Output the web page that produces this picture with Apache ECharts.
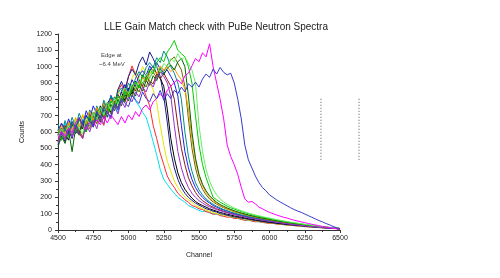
<!DOCTYPE html>
<html>
<head>
<meta charset="utf-8">
<script src="https://cdn.jsdelivr.net/npm/echarts@6/dist/echarts.min.js"></script>
<style>
  html, body { margin: 0; padding: 0; background: #fff; }
  #chart { width: 500px; height: 278px; }
</style>
</head>
<body>
<div id="chart"></div>
<script type="text/javascript">
// channel numbers (x), one point every 25 channels
var channels = [4500,4525,4550,4575,4600,4625,4650,4675,4700,4725,
  4750,4775,4800,4825,4850,4875,4900,4925,4950,4975,
  5000,5025,5050,5075,5100,5125,5150,5175,5200,5225,
  5250,5275,5300,5325,5350,5375,5400,5425,5450,5475,
  5500,5525,5550,5575,5600,5625,5650,5675,5700,5725,
  5750,5775,5800,5825,5850,5875,5900,5925,5950,5975,
  6000,6025,6050,6075,6100,6125,6150,6175,6200,6225,
  6250,6275,6300,6325,6350,6375,6400,6425,6450,6475,6500];

// counts per spectrum
var cyanRun = [620,560,655,590,645,600,610,680,625,700,
  650,720,660,735,700,690,775,720,815,860,
  820,880,790,760,720,690,620,540,460,370,
  310,280,250,225,200,185,170,150,140,130,
  120,112,118,104,100,95,92,85,88,78,
  74,70,66,61,59,55,53,50,47,44,
  42,40,38,35,33,31,30,27,25,24,
  22,20,18,17,15,14,12,11,10,9,8];
var redRun = [540,615,575,650,590,665,600,560,650,705,
  640,730,680,640,750,805,760,850,890,840,
  940,1005,950,905,880,820,760,640,560,470,
  400,330,290,260,225,205,185,170,150,142,
  130,125,112,108,96,100,88,84,78,80,
  70,72,64,60,62,55,50,52,46,44,
  40,42,36,34,33,30,28,27,24,23,
  20,19,18,16,15,13,12,11,9,8,6];
var yellowRun = [610,650,580,665,625,690,630,710,650,735,
  680,650,720,780,730,815,770,860,810,890,
  850,930,970,930,1000,960,900,860,780,640,
  520,420,360,300,260,230,200,185,170,150,
  140,132,120,115,108,100,95,90,88,82,
  78,75,70,66,62,60,56,52,50,46,
  44,42,38,36,34,32,30,28,26,24,
  22,20,18,17,15,14,12,11,10,8,7];
var navyRun = [520,590,540,610,560,640,590,660,600,690,
  630,710,740,680,775,810,760,860,910,860,
  940,985,950,1020,1060,1010,1090,1050,1000,940,
  820,660,480,380,310,260,225,200,182,165,
  152,142,130,124,115,110,100,96,90,86,
  80,78,72,70,65,62,58,55,52,48,
  46,43,40,38,35,33,31,29,27,25,
  23,21,19,18,16,15,13,12,10,9,7];
var blackRun = [580,625,590,550,650,600,685,620,700,640,
  720,670,760,690,780,720,815,770,845,790,
  870,830,910,870,950,915,975,1005,955,930,
  880,740,560,440,350,290,250,220,195,175,
  160,150,140,130,122,115,108,102,96,92,
  86,82,78,74,70,66,62,58,55,52,
  49,46,43,40,38,36,33,31,29,27,
  25,23,21,19,17,15,14,12,10,9,7];
var maroonRun = [600,550,640,580,660,600,590,670,630,715,
  660,745,690,770,710,800,750,830,790,860,
  820,890,850,920,880,945,910,895,955,925,
  960,920,880,800,640,500,400,320,270,230,
  200,180,165,150,140,130,122,115,108,102,
  96,90,86,82,78,74,70,66,62,58,
  55,52,48,45,42,40,37,34,32,30,
  27,25,23,21,19,17,15,13,12,10,8];
var blueRun = [580,650,600,680,620,590,690,640,730,680,
  760,710,680,780,730,825,780,750,850,890,
  850,920,880,950,975,945,1005,970,1025,985,
  960,980,940,900,820,640,480,380,310,260,
  225,200,180,165,150,140,130,122,115,108,
  100,96,90,86,80,76,72,68,64,60,
  56,53,50,46,43,40,37,34,32,29,
  27,24,22,20,18,16,14,12,11,9,7];
var tealRun = [650,590,670,610,690,630,715,660,630,735,
  680,760,710,795,740,820,780,840,870,830,
  900,860,930,970,935,995,1025,995,1055,1025,
  1095,1060,1000,960,900,800,600,450,360,290,
  245,215,190,172,158,145,135,125,118,110,
  104,98,92,88,82,78,74,70,66,62,
  58,55,51,48,45,42,39,36,33,30,
  28,25,23,21,19,17,15,13,11,9,7];
var oliveRun = [540,610,560,630,575,665,610,570,670,620,
  700,650,730,680,760,710,790,745,820,780,
  850,815,880,845,905,875,935,965,935,995,
  970,1010,1040,1060,1020,980,880,680,500,380,
  300,250,215,190,172,158,146,136,127,120,
  112,106,100,94,89,84,79,75,71,67,
  63,59,55,52,48,45,42,39,36,33,
  30,27,25,22,20,18,16,14,12,10,8];
var orangeRun = [590,640,590,660,610,685,630,700,650,725,
  670,750,700,775,720,800,760,820,780,855,
  810,870,905,870,935,905,955,985,955,1005,
  980,1000,970,990,950,920,860,740,560,420,
  330,270,230,200,180,164,150,140,130,122,
  114,108,102,96,90,85,80,76,72,68,
  64,60,56,52,49,46,43,40,37,34,
  31,28,25,23,21,19,17,15,13,11,9];
var darkGreenRun = [510,575,530,610,480,625,580,650,600,680,
  630,710,660,740,690,770,730,800,760,830,
  790,860,820,890,850,915,885,945,915,975,
  950,990,1010,980,1030,1050,1000,820,600,440,
  340,280,240,210,188,170,156,145,135,126,
  118,111,104,98,92,87,82,77,73,69,
  65,61,57,53,50,47,43,40,37,34,
  31,28,26,23,21,19,17,15,13,11,9];
var greenRun = [610,550,630,570,660,600,680,630,600,700,
  650,730,680,760,710,790,750,820,780,850,
  815,875,905,870,945,915,985,955,1025,1055,
  1030,1090,1120,1160,1100,1080,1060,1000,900,700,
  520,400,320,260,200,185,170,158,146,136,
  128,120,113,106,100,94,88,83,78,74,
  70,65,61,57,53,50,46,43,40,37,
  34,31,28,25,22,20,18,16,14,12,9];
var limeRun = [570,620,575,640,590,670,620,590,690,640,
  720,670,750,700,780,730,810,770,830,870,
  835,895,865,925,895,955,925,985,1005,965,
  1020,1000,1050,1030,1080,1040,1060,1020,980,900,
  640,480,370,300,250,215,190,172,158,146,
  135,126,118,111,104,98,92,87,82,77,
  73,68,64,60,56,52,48,45,42,38,
  35,32,29,26,23,21,18,16,14,12,10];
var purpleRun = [530,600,550,620,570,640,590,560,650,600,
  670,620,700,650,730,680,760,710,790,750,
  815,785,845,815,875,845,905,875,935,965,
  940,900,820,640,480,380,310,260,225,200,
  180,165,152,142,133,125,118,111,105,99,
  94,89,84,80,75,71,67,63,60,56,
  53,50,47,44,41,38,35,33,30,28,
  25,23,21,19,17,15,13,12,10,9,7];
var magentaRun = [560,605,575,625,595,655,685,635,615,665,
  635,675,645,695,655,705,675,645,695,655,
  705,675,725,695,745,765,735,785,805,835,
  810,855,880,905,920,895,945,960,1005,1050,
  1030,1085,1060,1140,1000,900,800,680,520,450,
  400,340,260,190,170,175,160,140,130,118,
  108,100,92,85,78,73,66,60,55,50,
  45,40,35,31,27,22,18,15,12,8,6];
var violetRun = [610,655,615,585,665,625,685,645,705,665,
  635,725,685,755,715,695,775,735,805,775,
  755,825,795,775,845,805,785,835,805,855,
  795,835,805,855,835,875,845,895,875,905,
  875,925,955,935,985,955,995,965,950,960,
  900,800,680,520,430,380,330,290,260,240,
  215,200,185,172,160,148,136,125,116,108,
  98,88,78,68,58,50,40,32,22,14,8];

var runNames = ['cyan','red','yellow','navy','black','maroon','blue','teal',
  'olive','orange','dark green','green','lime','purple','magenta','violet'];
var runColors = ['#00e0f0','#ff2a2a','#e6e600','#1a1a8c','#000000','#8b1a1a','#1e1ef0','#008b8b',
  '#6b6b00','#ff9900','#006400','#00cc00','#66ee66','#9932cc','#ff00ff','#3a3acc'];
var runs = [cyanRun,redRun,yellowRun,navyRun,blackRun,maroonRun,blueRun,tealRun,
  oliveRun,orangeRun,darkGreenRun,greenRun,limeRun,purpleRun,magentaRun,violetRun];

// dotted marker lines at the right (channel, counts from / to)
var markChannels = [6365, 6635];
var markCounts = [430, 810];

var chart = echarts.init(document.getElementById('chart'));

var series = [];
for (var i = 0; i < runs.length; i++) {
  var pts = [];
  for (var j = 0; j < channels.length; j++) {
    pts.push([channels[j], runs[i][j]]);
  }
  series.push({
    name: runNames[i],
    type: 'line',
    data: pts,
    showSymbol: false,
    lineStyle: { width: 1, color: runColors[i] },
    itemStyle: { color: runColors[i] },
    animation: false
  });
}

var option = {
  backgroundColor: '#fff',
  textStyle: { fontFamily: 'Liberation Sans' },
  title: {
    text: 'LLE Gain Match check with PuBe Neutron Spectra',
    left: 99,
    top: 17,
    textStyle: { fontSize: 10, fontWeight: 'normal', color: '#222', fontFamily: 'Liberation Sans' }
  },
  graphic: [
    { id: 'edge1', type: 'text', left: 101, top: 52, style: { text: 'Edge at', fontSize: 6, fill: '#444', fontFamily: 'Liberation Sans' } },
    { id: 'edge2', type: 'text', left: 99, top: 61, style: { text: '~6.4 MeV', fontSize: 6, fill: '#444', fontFamily: 'Liberation Sans' } }
  ],
  grid: { left: 58, right: 160, top: 34, bottom: 48 },
  xAxis: {
    type: 'value',
    min: 4500,
    max: 6500,
    interval: 250,
    name: 'Channel',
    nameLocation: 'middle',
    nameGap: 22,
    nameTextStyle: { fontSize: 7, color: '#222' },
    axisLine: { lineStyle: { color: '#333', width: 1 } },
    axisTick: { show: true, length: 3, lineStyle: { color: '#333' } },
    minorTick: { show: true, splitNumber: 2, length: 2, lineStyle: { color: '#333' } },
    axisLabel: { fontSize: 7, color: '#222', margin: 5, formatter: function (v) { return String(v); } },
    splitLine: { show: false }
  },
  yAxis: {
    type: 'value',
    min: 0,
    max: 1200,
    interval: 100,
    name: 'Counts',
    nameLocation: 'middle',
    nameGap: 31,
    nameTextStyle: { fontSize: 7, color: '#222' },
    axisLine: { show: true, lineStyle: { color: '#333', width: 1 } },
    axisTick: { show: true, length: 3, lineStyle: { color: '#333' } },
    minorTick: { show: true, splitNumber: 2, length: 2, lineStyle: { color: '#333' } },
    axisLabel: { fontSize: 7, color: '#222', margin: 6, formatter: function (v) { return String(v); } },
    splitLine: { show: false }
  },
  series: series
};

chart.setOption(option);

// marker lines, placed through the axes (second one sits past the axis end)
var marks = [];
for (var k = 0; k < markChannels.length; k++) {
  var p0 = chart.convertToPixel({ gridIndex: 0 }, [markChannels[k], markCounts[0]]);
  var p1 = chart.convertToPixel({ gridIndex: 0 }, [markChannels[k], markCounts[1]]);
  marks.push({
    id: 'mark' + k,
    type: 'line',
    shape: { x1: p0[0], y1: p0[1], x2: p1[0], y2: p1[1] },
    style: { stroke: '#555', lineWidth: 1, lineDash: [1, 2] }
  });
}
chart.setOption({ graphic: marks });
</script>
</body>
</html>
